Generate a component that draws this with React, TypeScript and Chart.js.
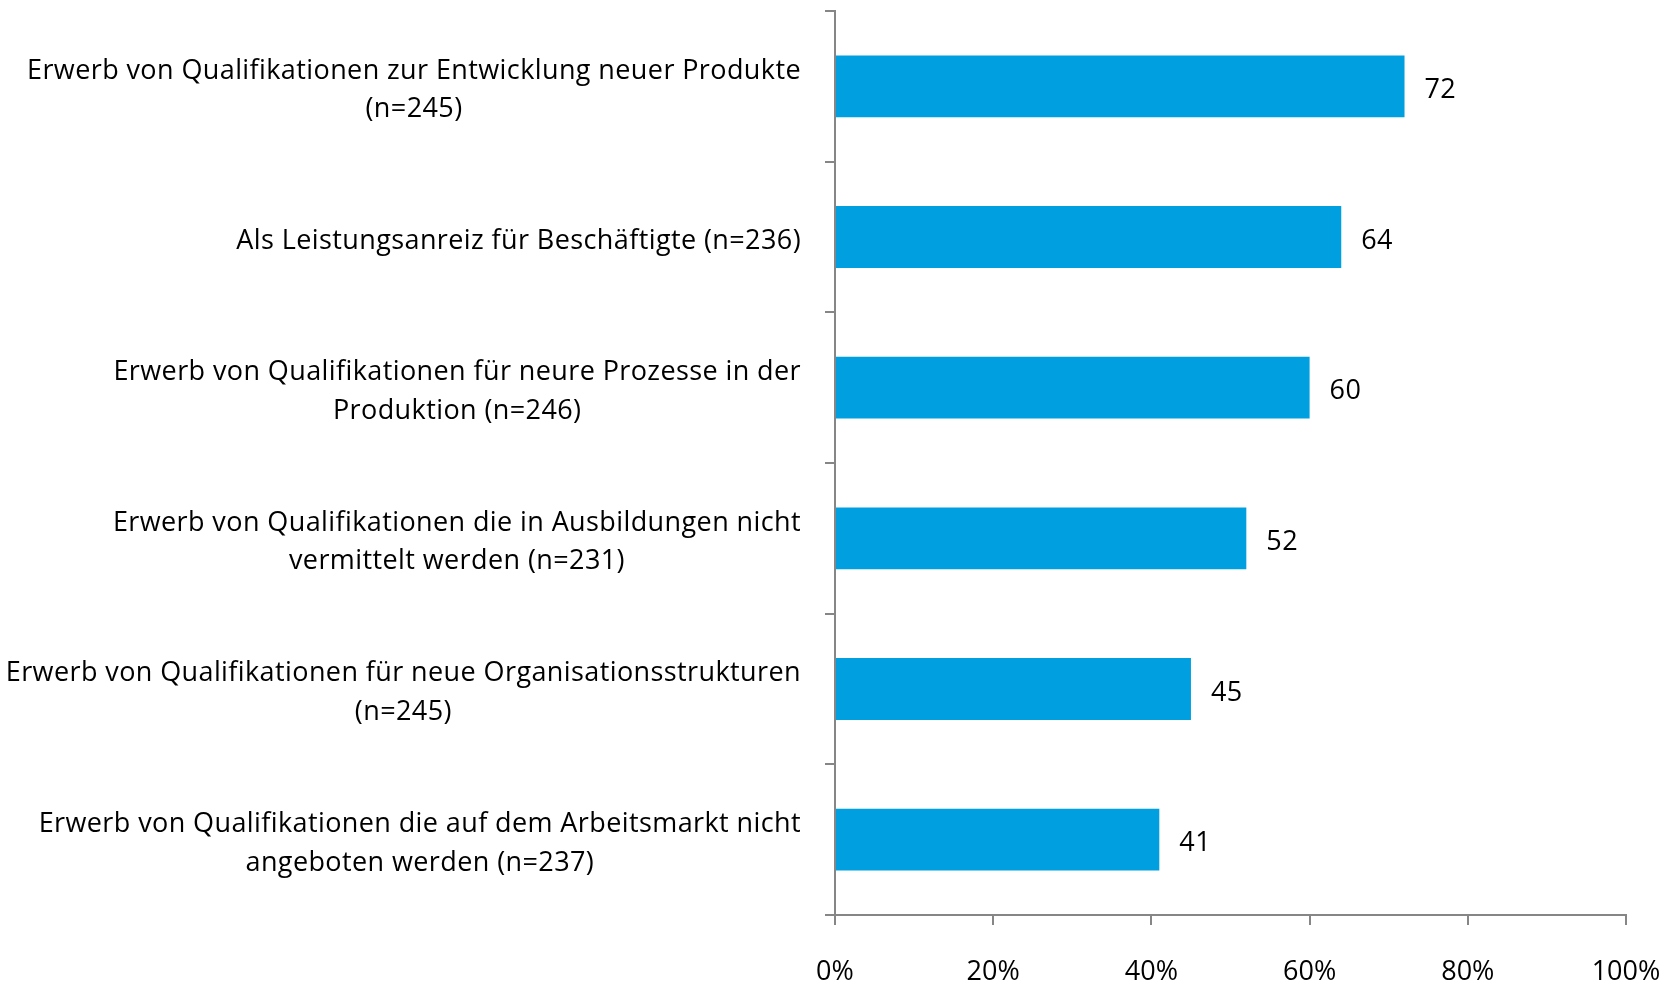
import React, { useEffect, useRef } from "react";
import { Chart, registerables } from "chart.js";

Chart.register(...registerables);

const categories: string[][] = [
  ["Erwerb von Qualifikationen zur Entwicklung neuer Produkte", "(n=245)"],
  ["Als Leistungsanreiz für Beschäftigte (n=236)"],
  ["Erwerb von Qualifikationen für neure Prozesse in der", "Produktion (n=246)"],
  ["Erwerb von Qualifikationen die in Ausbildungen nicht", "vermittelt werden (n=231)"],
  ["Erwerb von Qualifikationen für neue Organisationsstrukturen", "(n=245)"],
  ["Erwerb von Qualifikationen die auf dem Arbeitsmarkt nicht", "angeboten werden (n=237)"],
];
const values: number[] = [72, 64, 60, 52, 45, 41];
const tickValues: number[] = [0, 20, 40, 60, 80, 100];

const FONT = "'Open Sans', Lato, 'DejaVu Sans', sans-serif";
const FONT_SIZE = 27;
const AXIS_COLOR = "#868686";
const BAR_COLOR = "#009FE0";

const labelPlugin = {
  id: "customLabels",
  afterDraw(chart: any) {
    const ctx = chart.ctx;
    const yScale = chart.scales.y;
    ctx.save();
    ctx.font = `${FONT_SIZE}px ${FONT}`;
    ctx.fillStyle = "#000";
    ctx.textBaseline = "middle";
    ctx.textAlign = "center";
    try {
      (ctx as any).letterSpacing = "0.4px";
    } catch (e) {}
    const rightEdge = 801;
    const lineH = 38.5;
    categories.forEach((lines, i) => {
      const cy = yScale.getPixelForValue(i) + 4;
      const w = Math.max(...lines.map((l) => ctx.measureText(l).width));
      const cx = rightEdge - w / 2;
      const n = lines.length;
      lines.forEach((l, j) => {
        ctx.fillText(l, cx, cy + (j - (n - 1) / 2) * lineH);
      });
    });
    // data labels
    const meta = chart.getDatasetMeta(0);
    ctx.textAlign = "left";
    meta.data.forEach((bar: any, i: number) => {
      ctx.fillText(String(values[i]), bar.x + 20, bar.y + 4);
    });
    ctx.restore();
  },
};

export default function App() {
  const ref = useRef<HTMLCanvasElement | null>(null);
  useEffect(() => {
    document.body.style.margin = "0";
    const canvas = ref.current!;
    const chart = new Chart(canvas, {
      type: "bar",
      data: {
        labels: categories.map((c) => c.join(" ")),
        datasets: [
          {
            data: values,
            backgroundColor: BAR_COLOR,
            borderWidth: 0,
            barPercentage: 0.41,
            categoryPercentage: 1,
          },
        ],
      },
      options: {
        indexAxis: "y",
        responsive: false,
        animation: false,
        devicePixelRatio: 1,
        layout: { padding: { left: 22, right: 52, top: 11, bottom: 0 } },
        plugins: {
          legend: { display: false },
          tooltip: { enabled: false },
        },
        scales: {
          x: {
            min: 0,
            max: 100,
            afterBuildTicks: (s: any) => {
              s.ticks = tickValues.map((v) => ({ value: v }));
            },
            afterFit: (s: any) => {
              s.height = 69;
              s.paddingLeft = 0;
              s.paddingRight = 0;
            },
            border: { display: true, color: AXIS_COLOR, width: 2 },
            grid: {
              drawOnChartArea: false,
              drawTicks: true,
              tickLength: 10,
              color: AXIS_COLOR,
              lineWidth: 2,
            },
            ticks: {
              padding: 31,
              color: "#000",
              font: { family: FONT, size: FONT_SIZE },
              callback: (v: any) => v + "%",
              maxRotation: 0,
            },
          },
          y: {
            afterFit: (s: any) => {
              s.width = 813;
            },
            border: { display: true, color: AXIS_COLOR, width: 2 },
            grid: {
              offset: true,
              drawOnChartArea: false,
              drawTicks: true,
              tickLength: 10,
              color: AXIS_COLOR,
              lineWidth: 2,
            },
            ticks: { display: false },
          },
        },
      },
      plugins: [labelPlugin],
    });
    return () => chart.destroy();
  }, []);
  return (
    <canvas
      ref={ref}
      width={1678}
      height={984}
      style={{ display: "block", width: 1678, height: 984 }}
    />
  );
}
